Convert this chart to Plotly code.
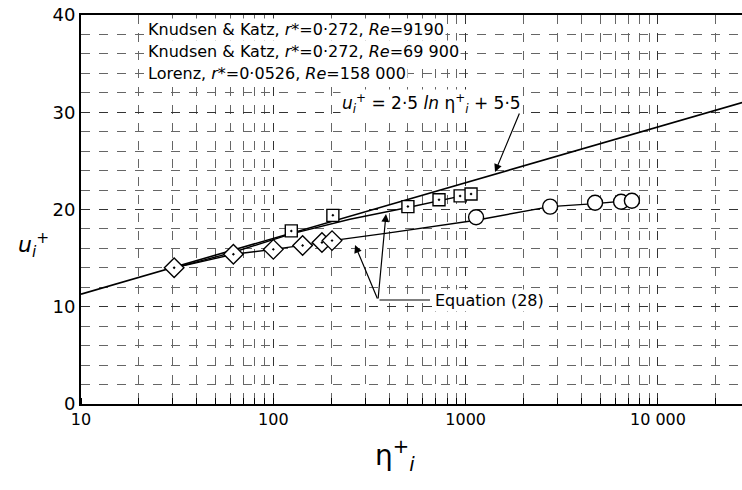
import math
import plotly.graph_objects as go

# ---- data ----
# log-law line u+ = 2.5 ln(eta+) + 5.5 (end points as drawn)
law_eta = [10, 27400]
law_u = [11.3, 31.0]

# Knudsen & Katz, r*=0.272, Re=9190 (diamonds)
kk1_eta = [30.5, 62, 100, 142, 179, 202]
kk1_u = [14.0, 15.4, 15.9, 16.3, 16.6, 16.8]

# Knudsen & Katz, r*=0.272, Re=69900 (squares)
kk2_eta = [124, 204, 501, 727, 936, 1067]
kk2_u = [17.8, 19.4, 20.3, 21.0, 21.4, 21.6]

# Lorenz, r*=0.0526, Re=158000 (circles)
lor_eta = [1133, 2750, 4710, 6430, 7320]
lor_u = [19.2, 20.3, 20.7, 20.8, 20.9]

# Equation (28) curves
eq_a_eta = [30.5, 62, 100, 142, 179, 202]
eq_a_u = [14.0, 15.4, 15.9, 16.3, 16.6, 16.8]
eq_b_eta = [30.5, 62, 124, 250, 501, 727, 936, 1067]
eq_b_u = [14.0, 15.6, 17.5, 19.0, 20.2, 20.9, 21.3, 21.6]
eq_c_eta = [202, 400, 1133, 2750, 4710, 7320, 8000]
eq_c_u = [16.8, 17.6, 18.9, 20.3, 20.6, 20.9, 21.0]

legend_labels = [
    "Knudsen &amp; Katz, <i>r</i>*=0·272, <i>Re</i>=9190",
    "Knudsen &amp; Katz, <i>r</i>*=0·272, <i>Re</i>=69 900",
    "Lorenz, <i>r</i>*=0·0526, <i>Re</i>=158 000",
]
x_tickvals = [10, 100, 1000, 10000]
x_ticktext = ["10", "100", "1000", "10 000"]
y_tickvals = [0, 10, 20, 30, 40]

FONT = "DejaVu Sans"
W, H = 742, 490
L, R, T, B = 81, 0, 15, 86
XR = [1, 4.437]
YR = [0, 40]


def px_to_paper(px, py):
    return (px - L) / (W - L - R), (H - B - py) / (H - T - B)


def px_to_data(px, py):
    fx, fy = px_to_paper(px, py)
    return 10 ** (XR[0] + fx * (XR[1] - XR[0])), YR[0] + fy * (YR[1] - YR[0])


fig = go.Figure()

line_style = dict(color="black", width=1.6)
fig.add_trace(go.Scatter(x=law_eta, y=law_u, mode="lines", line=line_style, hoverinfo="skip"))
for ex, ey in [(eq_a_eta, eq_a_u), (eq_b_eta, eq_b_u), (eq_c_eta, eq_c_u)]:
    fig.add_trace(go.Scatter(x=ex, y=ey, mode="lines", line=dict(color="black", width=1.4), hoverinfo="skip"))

mk_line = dict(color="black", width=1.4)
fig.add_trace(go.Scatter(x=kk1_eta, y=kk1_u, mode="markers",
                         marker=dict(symbol="diamond-dot", size=15, color="white", line=mk_line)))
fig.add_trace(go.Scatter(x=kk2_eta, y=kk2_u, mode="markers",
                         marker=dict(symbol="square-dot", size=12, color="white", line=mk_line)))
fig.add_trace(go.Scatter(x=lor_eta, y=lor_u, mode="markers",
                         marker=dict(symbol="circle", size=15, color="white", line=mk_line)))

grid_col = "#333333"
fig.update_xaxes(
    type="log", range=XR, tickvals=x_tickvals, ticktext=x_ticktext,
    showgrid=True, gridcolor=grid_col, griddash="dash", gridwidth=1,
    minor=dict(dtick="D1", showgrid=True, gridcolor="#666666", griddash="dash",
               gridwidth=1, ticks="inside", ticklen=6, tickcolor="black"),
    showline=True, linecolor="black", linewidth=2, mirror=True,
    ticks="", zeroline=False,
    tickfont=dict(family=FONT, size=16, color="black"),
)
fig.update_yaxes(
    range=YR, tickvals=y_tickvals, ticktext=["0", "10", "20", "30", "40"],
    showgrid=True, gridcolor=grid_col, griddash="dash", gridwidth=1,
    minor=dict(dtick=2, showgrid=True, gridcolor="#666666", griddash="dash", gridwidth=1),
    showline=True, linecolor="black", linewidth=2, mirror=False,
    ticks="", zeroline=False,
    tickfont=dict(family=FONT, size=18, color="black"),
)

ann = []
# legend-like text block
for i, (lab, py) in enumerate(zip(legend_labels, [29, 51, 73])):
    fx, fy = px_to_paper(146, py)
    ann.append(dict(text=lab, xref="paper", yref="paper", x=fx, y=fy, xanchor="left",
                    yanchor="middle", showarrow=False, bgcolor="white",
                    font=dict(family=FONT, size=16, color="black")))
# log-law label
fx, fy = px_to_paper(340, 103)
ann.append(dict(text="<i>u<sub>i</sub></i><sup>+</sup> = 2·5 <i>ln</i> η<sup>+</sup><sub><i>i</i></sub> + 5·5",
                xref="paper", yref="paper", x=fx, y=fy, xanchor="left", yanchor="middle",
                showarrow=False, bgcolor="white", font=dict(family=FONT, size=17, color="black")))
# leader for log-law
tx, ty = px_to_data(495, 172)
sx, sy = px_to_data(520, 112)
ann.append(dict(x=math.log10(tx), y=ty, ax=math.log10(sx), ay=sy, xref="x", yref="y",
                axref="x", ayref="y", text="", showarrow=True, arrowhead=2, arrowsize=1.3,
                arrowwidth=1.2, arrowcolor="black"))
# Equation (28) label and leaders
bx, by = px_to_data(378, 300)
for tpx, tpy in [(355, 245), (386, 214)]:
    tx, ty = px_to_data(tpx, tpy)
    ann.append(dict(x=math.log10(tx), y=ty, ax=math.log10(bx), ay=by, xref="x", yref="y",
                    axref="x", ayref="y", text="", showarrow=True, arrowhead=2, arrowsize=1.3,
                    arrowwidth=1.2, arrowcolor="black"))
ex_, ey_ = px_to_data(430, 300)
ann.append(dict(x=math.log10(ex_), y=ey_, ax=math.log10(bx), ay=by, xref="x", yref="y",
                axref="x", ayref="y", text="", showarrow=True, arrowhead=0,
                arrowwidth=1.2, arrowcolor="black"))
fx, fy = px_to_paper(433, 300)
ann.append(dict(text="Equation (28)", xref="paper", yref="paper", x=fx, y=fy, xanchor="left",
                yanchor="middle", showarrow=False, bgcolor="white",
                font=dict(family=FONT, size=16, color="black")))
# axis titles
ann.append(dict(text="<i>u<sub>i</sub></i><sup>+</sup>", xref="paper", yref="paper",
                x=(33 - L) / (W - L - R), y=(H - B - 245) / (H - T - B), xanchor="center",
                yanchor="middle", showarrow=False, font=dict(family=FONT, size=22, color="black")))
ann.append(dict(text="η<sup>+</sup><sub><i>i</i></sub>", xref="paper", yref="paper",
                x=(395 - L) / (W - L - R), y=(H - B - 455) / (H - T - B), xanchor="center",
                yanchor="middle", showarrow=False, font=dict(family=FONT, size=28, color="black")))

fig.update_layout(
    width=W, height=H, margin=dict(l=L, r=R, t=T, b=B),
    plot_bgcolor="white", paper_bgcolor="white", showlegend=False,
    annotations=ann,
)
fig.write_html("out.html")
